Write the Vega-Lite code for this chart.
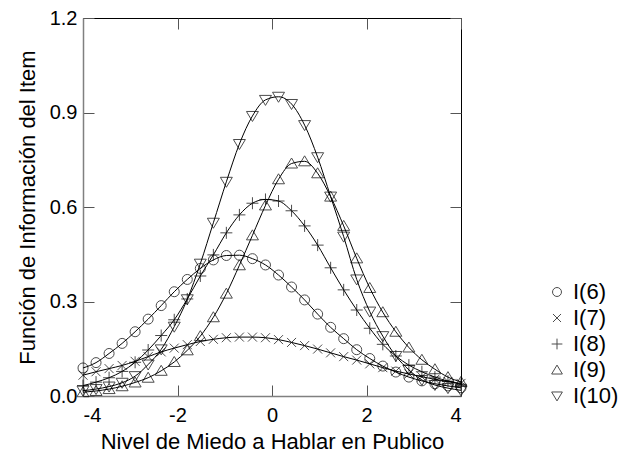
{
  "$schema": "https://vega.github.io/schema/vega-lite/v6.json",
  "width": 378,
  "height": 378,
  "autosize": {"type": "none"},
  "padding": {"left": 83, "top": 18, "right": 162, "bottom": 60},
  "config": {
    "font": "Liberation Sans",
    "view": {"stroke": "black", "strokeWidth": 1},
    "axis": {
      "grid": false,
      "labelColor": "black",
      "titleColor": "black",
      "titleFontWeight": "normal",
      "labelFontSize": 20,
      "titleFontSize": 22,
      "tickColor": "#555555",
      "tickSize": -11,
      "domainColor": "#808080",
      "domainWidth": 1.5
    },
    "legend": {
      "labelFontSize": 22,
      "labelColor": "black"
    }
  },
  "data": {
    "values": [
      {"item": "I(6)", "theta": -4, "info": 0.089},
      {"item": "I(6)", "theta": -3.724, "info": 0.106},
      {"item": "I(6)", "theta": -3.448, "info": 0.135},
      {"item": "I(6)", "theta": -3.172, "info": 0.167},
      {"item": "I(6)", "theta": -2.897, "info": 0.204},
      {"item": "I(6)", "theta": -2.621, "info": 0.244},
      {"item": "I(6)", "theta": -2.345, "info": 0.287},
      {"item": "I(6)", "theta": -2.069, "info": 0.331},
      {"item": "I(6)", "theta": -1.793, "info": 0.370},
      {"item": "I(6)", "theta": -1.517, "info": 0.405},
      {"item": "I(6)", "theta": -1.241, "info": 0.432},
      {"item": "I(6)", "theta": -0.966, "info": 0.446},
      {"item": "I(6)", "theta": -0.69, "info": 0.447},
      {"item": "I(6)", "theta": -0.414, "info": 0.436},
      {"item": "I(6)", "theta": -0.138, "info": 0.416},
      {"item": "I(6)", "theta": 0.138, "info": 0.384},
      {"item": "I(6)", "theta": 0.414, "info": 0.346},
      {"item": "I(6)", "theta": 0.69, "info": 0.305},
      {"item": "I(6)", "theta": 0.966, "info": 0.260},
      {"item": "I(6)", "theta": 1.241, "info": 0.218},
      {"item": "I(6)", "theta": 1.517, "info": 0.182},
      {"item": "I(6)", "theta": 1.793, "info": 0.147},
      {"item": "I(6)", "theta": 2.069, "info": 0.119},
      {"item": "I(6)", "theta": 2.345, "info": 0.095},
      {"item": "I(6)", "theta": 2.621, "info": 0.076},
      {"item": "I(6)", "theta": 2.897, "info": 0.060},
      {"item": "I(6)", "theta": 3.172, "info": 0.048},
      {"item": "I(6)", "theta": 3.448, "info": 0.039},
      {"item": "I(6)", "theta": 3.724, "info": 0.032},
      {"item": "I(6)", "theta": 4, "info": 0.026},

      {"item": "I(7)", "theta": -4, "info": 0.066},
      {"item": "I(7)", "theta": -3.724, "info": 0.077},
      {"item": "I(7)", "theta": -3.448, "info": 0.087},
      {"item": "I(7)", "theta": -3.172, "info": 0.097},
      {"item": "I(7)", "theta": -2.897, "info": 0.110},
      {"item": "I(7)", "theta": -2.621, "info": 0.125},
      {"item": "I(7)", "theta": -2.345, "info": 0.140},
      {"item": "I(7)", "theta": -2.069, "info": 0.152},
      {"item": "I(7)", "theta": -1.793, "info": 0.163},
      {"item": "I(7)", "theta": -1.517, "info": 0.173},
      {"item": "I(7)", "theta": -1.241, "info": 0.180},
      {"item": "I(7)", "theta": -0.966, "info": 0.185},
      {"item": "I(7)", "theta": -0.69, "info": 0.187},
      {"item": "I(7)", "theta": -0.414, "info": 0.187},
      {"item": "I(7)", "theta": -0.138, "info": 0.185},
      {"item": "I(7)", "theta": 0.138, "info": 0.179},
      {"item": "I(7)", "theta": 0.414, "info": 0.170},
      {"item": "I(7)", "theta": 0.69, "info": 0.160},
      {"item": "I(7)", "theta": 0.966, "info": 0.149},
      {"item": "I(7)", "theta": 1.241, "info": 0.137},
      {"item": "I(7)", "theta": 1.517, "info": 0.125},
      {"item": "I(7)", "theta": 1.793, "info": 0.114},
      {"item": "I(7)", "theta": 2.069, "info": 0.102},
      {"item": "I(7)", "theta": 2.345, "info": 0.090},
      {"item": "I(7)", "theta": 2.621, "info": 0.079},
      {"item": "I(7)", "theta": 2.897, "info": 0.070},
      {"item": "I(7)", "theta": 3.172, "info": 0.061},
      {"item": "I(7)", "theta": 3.448, "info": 0.053},
      {"item": "I(7)", "theta": 3.724, "info": 0.046},
      {"item": "I(7)", "theta": 4, "info": 0.040},

      {"item": "I(8)", "theta": -4, "info": 0.033},
      {"item": "I(8)", "theta": -3.724, "info": 0.044},
      {"item": "I(8)", "theta": -3.448, "info": 0.058},
      {"item": "I(8)", "theta": -3.172, "info": 0.078},
      {"item": "I(8)", "theta": -2.897, "info": 0.107},
      {"item": "I(8)", "theta": -2.621, "info": 0.146},
      {"item": "I(8)", "theta": -2.345, "info": 0.192},
      {"item": "I(8)", "theta": -2.069, "info": 0.242},
      {"item": "I(8)", "theta": -1.793, "info": 0.308},
      {"item": "I(8)", "theta": -1.517, "info": 0.381},
      {"item": "I(8)", "theta": -1.241, "info": 0.448},
      {"item": "I(8)", "theta": -0.966, "info": 0.518},
      {"item": "I(8)", "theta": -0.69, "info": 0.575},
      {"item": "I(8)", "theta": -0.414, "info": 0.612},
      {"item": "I(8)", "theta": -0.138, "info": 0.624},
      {"item": "I(8)", "theta": 0.138, "info": 0.619},
      {"item": "I(8)", "theta": 0.414, "info": 0.588},
      {"item": "I(8)", "theta": 0.69, "info": 0.540},
      {"item": "I(8)", "theta": 0.966, "info": 0.479},
      {"item": "I(8)", "theta": 1.241, "info": 0.407},
      {"item": "I(8)", "theta": 1.517, "info": 0.337},
      {"item": "I(8)", "theta": 1.793, "info": 0.273},
      {"item": "I(8)", "theta": 2.069, "info": 0.215},
      {"item": "I(8)", "theta": 2.345, "info": 0.164},
      {"item": "I(8)", "theta": 2.621, "info": 0.127},
      {"item": "I(8)", "theta": 2.897, "info": 0.098},
      {"item": "I(8)", "theta": 3.172, "info": 0.077},
      {"item": "I(8)", "theta": 3.448, "info": 0.060},
      {"item": "I(8)", "theta": 3.724, "info": 0.047},
      {"item": "I(8)", "theta": 4, "info": 0.037},

      {"item": "I(9)", "theta": -4, "info": 0.012},
      {"item": "I(9)", "theta": -3.724, "info": 0.016},
      {"item": "I(9)", "theta": -3.448, "info": 0.022},
      {"item": "I(9)", "theta": -3.172, "info": 0.031},
      {"item": "I(9)", "theta": -2.897, "info": 0.043},
      {"item": "I(9)", "theta": -2.621, "info": 0.058},
      {"item": "I(9)", "theta": -2.345, "info": 0.080},
      {"item": "I(9)", "theta": -2.069, "info": 0.108},
      {"item": "I(9)", "theta": -1.793, "info": 0.145},
      {"item": "I(9)", "theta": -1.517, "info": 0.190},
      {"item": "I(9)", "theta": -1.241, "info": 0.250},
      {"item": "I(9)", "theta": -0.966, "info": 0.325},
      {"item": "I(9)", "theta": -0.69, "info": 0.415},
      {"item": "I(9)", "theta": -0.414, "info": 0.510},
      {"item": "I(9)", "theta": -0.138, "info": 0.605},
      {"item": "I(9)", "theta": 0.138, "info": 0.688},
      {"item": "I(9)", "theta": 0.414, "info": 0.738},
      {"item": "I(9)", "theta": 0.69, "info": 0.745},
      {"item": "I(9)", "theta": 0.966, "info": 0.707},
      {"item": "I(9)", "theta": 1.241, "info": 0.633},
      {"item": "I(9)", "theta": 1.517, "info": 0.540},
      {"item": "I(9)", "theta": 1.793, "info": 0.437},
      {"item": "I(9)", "theta": 2.069, "info": 0.343},
      {"item": "I(9)", "theta": 2.345, "info": 0.266},
      {"item": "I(9)", "theta": 2.621, "info": 0.204},
      {"item": "I(9)", "theta": 2.897, "info": 0.154},
      {"item": "I(9)", "theta": 3.172, "info": 0.115},
      {"item": "I(9)", "theta": 3.448, "info": 0.085},
      {"item": "I(9)", "theta": 3.724, "info": 0.060},
      {"item": "I(9)", "theta": 4, "info": 0.045},

      {"item": "I(10)", "theta": -4, "info": 0.017},
      {"item": "I(10)", "theta": -3.724, "info": 0.022},
      {"item": "I(10)", "theta": -3.448, "info": 0.030},
      {"item": "I(10)", "theta": -3.172, "info": 0.042},
      {"item": "I(10)", "theta": -2.897, "info": 0.063},
      {"item": "I(10)", "theta": -2.621, "info": 0.100},
      {"item": "I(10)", "theta": -2.345, "info": 0.148},
      {"item": "I(10)", "theta": -2.069, "info": 0.220},
      {"item": "I(10)", "theta": -1.793, "info": 0.307},
      {"item": "I(10)", "theta": -1.517, "info": 0.420},
      {"item": "I(10)", "theta": -1.241, "info": 0.550},
      {"item": "I(10)", "theta": -0.966, "info": 0.680},
      {"item": "I(10)", "theta": -0.69, "info": 0.800},
      {"item": "I(10)", "theta": -0.414, "info": 0.889},
      {"item": "I(10)", "theta": -0.138, "info": 0.940},
      {"item": "I(10)", "theta": 0.138, "info": 0.950},
      {"item": "I(10)", "theta": 0.414, "info": 0.927},
      {"item": "I(10)", "theta": 0.69, "info": 0.860},
      {"item": "I(10)", "theta": 0.966, "info": 0.758},
      {"item": "I(10)", "theta": 1.241, "info": 0.633},
      {"item": "I(10)", "theta": 1.517, "info": 0.506},
      {"item": "I(10)", "theta": 1.793, "info": 0.370},
      {"item": "I(10)", "theta": 2.069, "info": 0.268},
      {"item": "I(10)", "theta": 2.345, "info": 0.190},
      {"item": "I(10)", "theta": 2.621, "info": 0.127},
      {"item": "I(10)", "theta": 2.897, "info": 0.083},
      {"item": "I(10)", "theta": 3.172, "info": 0.051},
      {"item": "I(10)", "theta": 3.448, "info": 0.035},
      {"item": "I(10)", "theta": 3.724, "info": 0.025},
      {"item": "I(10)", "theta": 4, "info": 0.018}
    ]
  },
  "layer": [
    {
      "mark": {"type": "line", "interpolate": "monotone", "color": "black", "strokeWidth": 1},
      "encoding": {
        "x": {
          "field": "theta",
          "type": "quantitative",
          "scale": {"domain": [-4, 4], "nice": false, "zero": false},
          "axis": {
            "orient": "bottom",
            "values": [-4, -2, 0, 2, 4],
            "labelExpr": "'' + datum.value",
            "title": "Nivel de Miedo a Hablar en Publico",
            "labelPadding": 20,
            "titlePadding": 6
          }
        },
        "y": {
          "field": "info",
          "type": "quantitative",
          "scale": {"domain": [0, 1.2], "nice": false},
          "axis": {
            "orient": "left",
            "values": [0, 0.3, 0.6, 0.9, 1.2],
            "format": ".1f",
            "title": "Función de Información del Item",
            "labelPadding": 17,
            "titlePadding": 10
          }
        },
        "detail": {"field": "item"}
      }
    },
    {
      "mark": {"type": "point", "filled": false, "color": "black", "strokeWidth": 1, "size": 100},
      "encoding": {
        "x": {
          "field": "theta",
          "type": "quantitative",
          "axis": {
            "orient": "top",
            "values": [-4, -2, 0, 2, 4],
            "labels": false,
            "title": null,
            "domain": false
          }
        },
        "y": {
          "field": "info",
          "type": "quantitative",
          "axis": {
            "orient": "right",
            "values": [0, 0.3, 0.6, 0.9, 1.2],
            "labels": false,
            "title": null,
            "domain": false
          }
        },
        "shape": {
          "field": "item",
          "type": "nominal",
          "scale": {
            "domain": ["I(6)", "I(7)", "I(8)", "I(9)", "I(10)"],
            "range": [
              "circle",
              "M-0.9,-0.9L0.9,0.9M-0.9,0.9L0.9,-0.9",
              "M-1.2,0L1.2,0M0,-1.2L0,1.2",
              "M0,-1.1L1.2,0.9L-1.2,0.9Z",
              "M0,1.1L1.2,-0.9L-1.2,-0.9Z"
            ]
          },
          "legend": {
            "title": null,
            "orient": "none",
            "legendX": 463,
            "legendY": 263,
            "padding": 0,
            "rowPadding": 4,
            "labelOffset": 5,
            "symbolStrokeColor": "black",
            "symbolStrokeWidth": 1,
            "symbolSize": 80
          }
        }
      }
    }
  ],
  "resolve": {"axis": {"x": "independent", "y": "independent"}}
}
